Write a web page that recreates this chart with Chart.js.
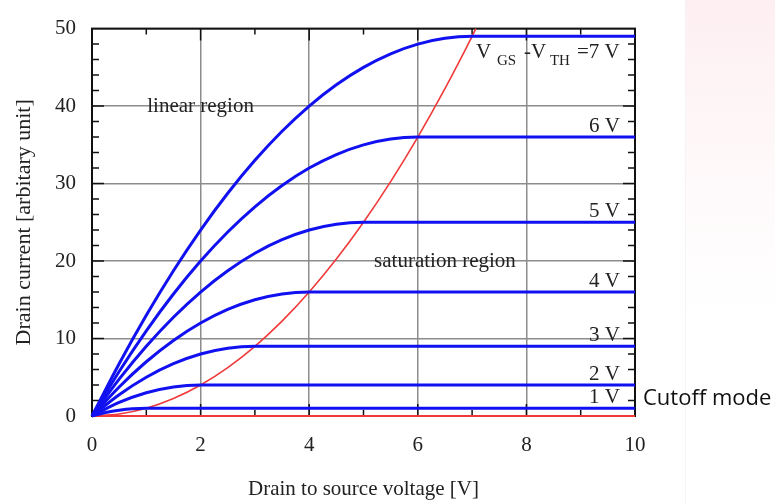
<!DOCTYPE html>
<html>
<head>
<meta charset="utf-8">
<script src="https://cdn.jsdelivr.net/npm/chart.js@4.4.1/dist/chart.umd.min.js"></script>
<style>
  html, body { margin: 0; background: #fff; }
  #wrap { width: 775px; height: 503px; position: relative; }
</style>
</head>
<body>
<div id="wrap"><canvas id="grafico"></canvas></div>
<script>
// curvas I_D - V_DS para cada V_GS - V_TH
const etiquetasCurvas = ['1 V', '2 V', '3 V', '4 V', '5 V', '6 V', 'V GS -V TH =7 V'];

const vov1X = [0, 0.25, 0.5, 0.75, 1, 10];
const vov1Y = [0, 0.44, 0.75, 0.94, 1, 1];
const vov2X = [0, 0.5, 1, 1.5, 2, 10];
const vov2Y = [0, 1.75, 3, 3.75, 4, 4];
const vov3X = [0, 0.5, 1, 1.5, 2, 2.5, 3, 10];
const vov3Y = [0, 2.75, 5, 6.75, 8, 8.75, 9, 9];
const vov4X = [0, 0.5, 1, 1.5, 2, 2.5, 3, 3.5, 4, 10];
const vov4Y = [0, 3.75, 7, 9.75, 12, 13.75, 15, 15.75, 16, 16];
const vov5X = [0, 0.5, 1, 1.5, 2, 2.5, 3, 3.5, 4, 4.5, 5, 10];
const vov5Y = [0, 4.75, 9, 12.75, 16, 18.75, 21, 22.75, 24, 24.75, 25, 25];
const vov6X = [0, 0.5, 1, 1.5, 2, 2.5, 3, 3.5, 4, 4.5, 5, 5.5, 6, 10];
const vov6Y = [0, 5.75, 11, 15.75, 20, 23.75, 27, 29.75, 32, 33.75, 35, 35.75, 36, 36];
const vov7X = [0, 0.5, 1, 1.5, 2, 2.5, 3, 3.5, 4, 4.5, 5, 5.5, 6, 6.5, 7, 10];
const vov7Y = [0, 6.75, 13, 18.75, 24, 28.75, 33, 36.75, 40, 42.75, 45, 46.75, 48, 48.75, 49, 49];

// frontera lineal / saturacion (curva roja) y corte
const fronteraX = [0, 0.5, 1, 1.5, 2, 2.5, 3, 3.5, 4, 4.5, 5, 5.5, 6, 6.5, 7, 7.07];
const fronteraY = [0, 0.25, 1, 2.25, 4, 6.25, 9, 12.25, 16, 20.25, 25, 30.25, 36, 42.25, 49, 50];
const corteX = [0, 10];
const corteY = [0, 0];

const ticksX = [0, 2, 4, 6, 8, 10];
const ticksY = [0, 10, 20, 30, 40, 50];

const curvasX = [vov1X, vov2X, vov3X, vov4X, vov5X, vov6X, vov7X];
const curvasY = [vov1Y, vov2Y, vov3Y, vov4Y, vov5Y, vov6Y, vov7Y];

function puntos(xs, ys) {
  return xs.map((x, i) => ({ x: x, y: ys[i] }));
}

const serif = '"Liberation Serif", "Times New Roman", serif';
const azul = '#1010f0';
const rojo = '#f03a3a';

const datasets = curvasX.map((xs, i) => ({
  label: etiquetasCurvas[i],
  data: puntos(xs, curvasY[i]),
  borderColor: azul,
  borderWidth: 3,
  pointRadius: 0,
  showLine: true,
  cubicInterpolationMode: 'monotone',
  clip: false
}));
datasets.push({
  label: 'frontera',
  data: puntos(fronteraX, fronteraY),
  borderColor: rojo,
  borderWidth: 1.6,
  pointRadius: 0,
  showLine: true,
  cubicInterpolationMode: 'monotone',
  clip: false
});
datasets.push({
  label: 'corte',
  data: puntos(corteX, corteY),
  borderColor: rojo,
  borderWidth: 2,
  pointRadius: 0,
  showLine: true,
  clip: false
});

const decoracion = {
  id: 'decoracion',
  beforeDraw(chart) {
    const c = chart.ctx;
    c.save();
    c.fillStyle = '#fff';
    c.fillRect(0, 0, chart.width, chart.height);
    // marca de agua rosada a la derecha
    const g = c.createLinearGradient(0, 0, 0, 320);
    g.addColorStop(0, 'rgba(250,200,210,0.3)');
    g.addColorStop(1, 'rgba(250,220,225,0)');
    c.fillStyle = g;
    c.fillRect(686, 0, 89, 320);
    c.fillStyle = 'rgba(240,235,240,0.6)';
    c.fillRect(685, 0, 1, 503);
    c.restore();
  },
  beforeDatasetsDraw(chart) {
    const c = chart.ctx;
    const a = chart.chartArea;
    const sx = chart.scales.x, sy = chart.scales.y;
    c.save();
    c.strokeStyle = '#111';
    c.lineWidth = 1.5;
    for (let v = 1; v < 10; v++) {
      const px = sx.getPixelForValue(v);
      const len = v % 2 === 0 ? 12 : 6;
      c.beginPath();
      c.moveTo(px, a.bottom); c.lineTo(px, a.bottom - len);
      c.moveTo(px, a.top); c.lineTo(px, a.top + len);
      c.stroke();
    }
    for (let v = 2; v < 50; v += 2) {
      const py = sy.getPixelForValue(v);
      const len = v % 10 === 0 ? 12 : 7;
      c.beginPath();
      c.moveTo(a.left, py); c.lineTo(a.left + len, py);
      c.moveTo(a.right, py); c.lineTo(a.right - len, py);
      c.stroke();
    }
    c.lineWidth = 2;
    c.strokeRect(a.left, a.top, a.right - a.left, a.bottom - a.top);
    c.restore();
  },
  afterDatasetsDraw(chart) {
    const c = chart.ctx;
    const sx = chart.scales.x, sy = chart.scales.y;
    c.save();
    c.fillStyle = '#222';
    c.font = '21px ' + serif;
    c.textBaseline = 'middle';
    c.textAlign = 'center';
    c.fillText('linear region', sx.getPixelForValue(2), sy.getPixelForValue(40));
    c.fillText('saturation region', sx.getPixelForValue(6.5), sy.getPixelForValue(20));

    // etiquetas de cada curva
    c.textBaseline = 'alphabetic';
    c.textAlign = 'right';
    const xr = sx.getPixelForValue(9.72);
    for (let i = 0; i < 6; i++) {
      const yLinea = sy.getPixelForValue(curvasY[i][curvasY[i].length - 1]);
      c.fillText(etiquetasCurvas[i], xr, yLinea - 5);
    }
    // V_GS - V_TH = 7 V
    c.textAlign = 'left';
    const x0 = sx.getPixelForValue(7.07);
    const yb = sy.getPixelForValue(49) + 22;
    c.font = '21px ' + serif;
    c.fillText('V', x0, yb);
    c.fillText('-V', x0 + 48, yb);
    c.fillText('=7 V', x0 + 101, yb);
    c.font = '15px ' + serif;
    c.fillText('GS', x0 + 21, yb + 7);
    c.fillText('TH', x0 + 74, yb + 7);

    // modo de corte
    c.font = '22px "Open Sans", "Liberation Sans", sans-serif';
    c.fillStyle = '#111';
    c.fillText('Cutoff mode', sx.getPixelForValue(10) + 8, sy.getPixelForValue(0) - 11);
    c.restore();
  }
};

const ctx = document.getElementById('grafico').getContext('2d');

new Chart(ctx, {
  type: 'scatter',
  data: { datasets: datasets },
  options: {
    responsive: true,
    maintainAspectRatio: false,
    animation: false,
    layout: { padding: { top: 19, right: 140, bottom: 0, left: 0 } },
    plugins: {
      legend: { display: false },
      tooltip: { enabled: false }
    },
    scales: {
      x: {
        type: 'linear',
        min: 0,
        max: 10,
        afterBuildTicks: (s) => { s.ticks = ticksX.map(v => ({ value: v })); },
        afterFit: (s) => { s.height = 87; },
        ticks: { color: '#222', padding: 17, font: { family: serif, size: 21 } },
        grid: { color: '#8c8c8c', lineWidth: 1.5, drawTicks: false },
        border: { display: false },
        title: {
          display: true,
          text: 'Drain to source voltage [V]',
          color: '#222',
          font: { family: serif, size: 21 },
          padding: { top: 0, bottom: 1 }
        }
      },
      y: {
        type: 'linear',
        min: 0,
        max: 50,
        afterBuildTicks: (s) => { s.ticks = ticksY.map(v => ({ value: v })); },
        afterFit: (s) => { s.width = 92; },
        ticks: { color: '#222', padding: 16, font: { family: serif, size: 21 } },
        grid: { color: '#8c8c8c', lineWidth: 1.5, drawTicks: false },
        border: { display: false },
        title: {
          display: true,
          text: 'Drain current [arbitary unit]',
          color: '#222',
          font: { family: serif, size: 22 },
          padding: { top: 11, bottom: 0 }
        }
      }
    }
  },
  plugins: [decoracion]
});
</script>
</body>
</html>
